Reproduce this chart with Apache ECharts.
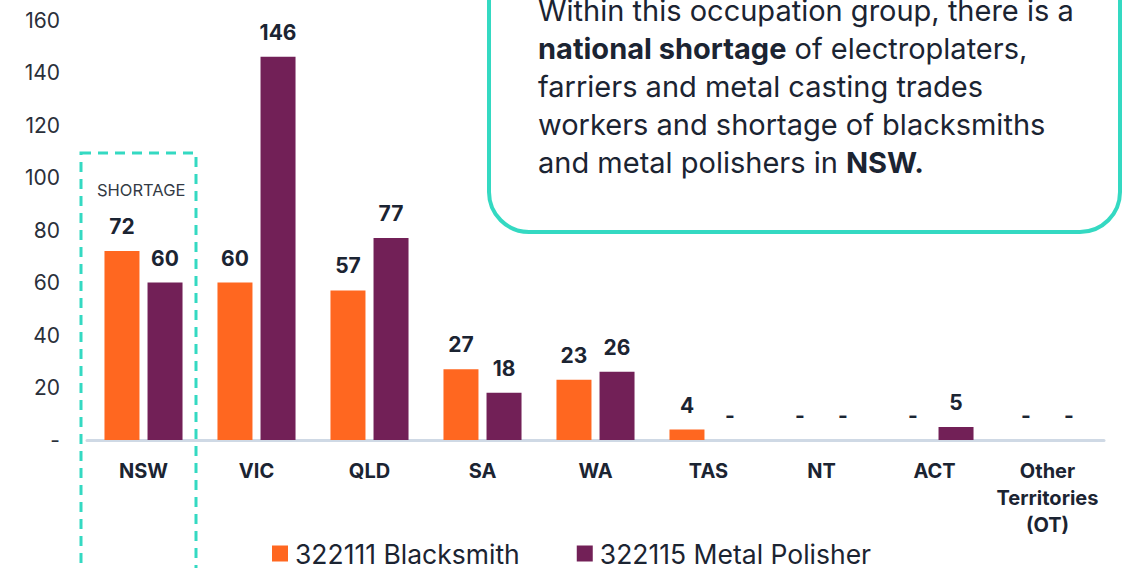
<!DOCTYPE html>
<html>
<head>
<meta charset="utf-8">
<script src="https://cdn.jsdelivr.net/npm/echarts@6/dist/echarts.min.js"></script>
<style>
    html, body {margin: 0; padding: 0; background: #fff;}
    #chart {width: 1122px; height: 568px;}
</style>
</head>
<body>
<div id="chart"></div>
<script>
const states = ['NSW', 'VIC', 'QLD', 'SA', 'WA', 'TAS', 'NT', 'ACT', 'Other\nTerritories\n(OT)'];
const blacksmith = [72, 60, 57, 27, 23, 4, 0, 0, 0];
const metalPolisher = [60, 146, 77, 18, 26, 0, 0, 5, 0];
const seriesNames = ['322111 Blacksmith', '322115 Metal Polisher'];

const ink = '#1b2432';
const teal = '#34d9c2';
const font = 'Inter, "Noto Sans", sans-serif';

const chart = echarts.init(document.getElementById('chart'), null, {renderer: 'svg'});

const dashLabel = v => v === 0 ? '-' : String(v);
const barLabel = {
    show: true,
    position: 'top',
    distance: 14,
    color: ink,
    fontFamily: font,
    fontWeight: 700,
    fontSize: 21,
    formatter: p => dashLabel(p.value),
};

chart.setOption({
    animation: false,
    textStyle: {fontFamily: font},
    grid: {left: 87, right: 18, top: 20, bottom: 128},
    legend: {
        left: 267,
        top: 535,
        icon: 'rect',
        itemWidth: 16,
        itemHeight: 16,
        itemGap: 57,
        textStyle: {fontSize: 26.5, color: ink, fontFamily: font, padding: [0, 0, 0, 2]},
        data: seriesNames,
    },
    xAxis: {
        type: 'category',
        data: states,
        axisTick: {show: false},
        axisLine: {lineStyle: {color: '#cfd9e5', width: 3}},
        axisLabel: {
            margin: 17,
            color: ink,
            fontWeight: 700,
            fontSize: 20,
            lineHeight: 27,
            interval: 0,
        },
    },
    yAxis: {
        type: 'value',
        min: 0,
        max: 160,
        interval: 20,
        splitLine: {show: false},
        axisLabel: {
            margin: 27,
            color: '#2a2f3a',
            fontSize: 21,
            formatter: dashLabel,
        },
    },
    series: [{
        name: seriesNames[0],
        type: 'bar',
        data: blacksmith,
        barWidth: 35,
        barGap: '23%',
        itemStyle: {color: '#ff6720'},
        label: barLabel,
    }, {
        name: seriesNames[1],
        type: 'bar',
        data: metalPolisher,
        barWidth: 35,
        itemStyle: {color: '#722057'},
        label: barLabel,
    }],
    graphic: [{
        type: 'rect',
        shape: {x: 81, y: 153, width: 115, height: 430},
        style: {fill: 'none', stroke: teal, lineWidth: 3, lineDash: [10, 7]},
    }, {
        type: 'text',
        left: 97,
        top: 181,
        style: {text: 'SHORTAGE', fill: '#333a44', font: '16.5px ' + font},
    }, {
        type: 'rect',
        shape: {x: 489, y: -60, width: 631, height: 292, r: 40},
        style: {fill: '#fff', stroke: teal, lineWidth: 4},
    }, {
        type: 'text',
        left: 538,
        top: -9,
        style: {
            text: 'Within this occupation group, there is a\n' +
                '{b|national shortage} of electroplaters,\n' +
                'farriers and metal casting trades\n' +
                'workers and shortage of blacksmiths\n' +
                'and metal polishers in {b|NSW.}',
            fill: ink,
            fontFamily: font,
            fontSize: 29,
            lineHeight: 38,
            rich: {
                b: {fontWeight: 700, fontSize: 29, fontFamily: font, fill: ink, lineHeight: 38},
            },
        },
    }],
});
</script>
</body>
</html>
